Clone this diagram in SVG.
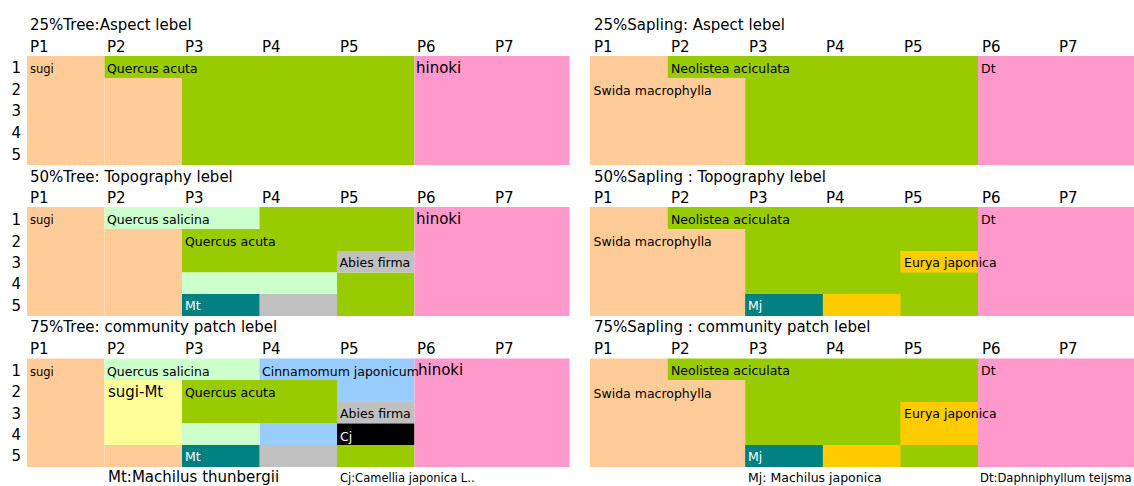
<svg xmlns="http://www.w3.org/2000/svg" width="1134" height="486" viewBox="0 0 1134 486">
<style>
text{font-family:"DejaVu Sans","Liberation Sans",sans-serif;fill:#000}
.t{font-size:15px}
.h{font-size:15px}
.r{font-size:15px;text-anchor:end}
.s{font-size:12.5px}
.sg{font-size:11.5px}
.w{fill:#fff}
.big{font-size:15px}
.pe{fill:#FFCC99}.gr{fill:#99CC00}.pk{fill:#FF99CC}.lg{fill:#CCFFCC}.gy{fill:#C0C0C0}.tl{fill:#008080}.lb{fill:#99CCFF}.ye{fill:#FFFF99}.bk{fill:#000}.go{fill:#FFCC00}
</style>
<rect width="1134" height="486" fill="#fff"/>

<g id="tree25">
<text class="t" x="30" y="30">25%Tree:Aspect lebel</text>
<g class="h"><text x="30" y="52">P1</text><text x="107" y="52">P2</text><text x="185" y="52">P3</text><text x="262" y="52">P4</text><text x="340" y="52">P5</text><text x="417" y="52">P6</text><text x="495" y="52">P7</text></g>
<rect class="pe" x="27" y="56" width="77.5" height="109"/>
<rect class="pe" x="104.5" y="78" width="77.5" height="87"/>
<rect class="gr" x="104.5" y="56" width="77.5" height="22"/>
<rect class="gr" x="182" y="56" width="232.5" height="109"/>
<rect class="pk" x="414.5" y="56" width="155" height="109"/>
<text class="r" x="21" y="73">1</text><text class="r" x="21" y="94.5">2</text><text class="r" x="21" y="116">3</text><text class="r" x="21" y="138">4</text><text class="r" x="21" y="159.5">5</text>
<text class="sg" x="30" y="73">sugi</text>
<text class="s" x="107" y="73">Quercus acuta</text>
<text class="big" x="416" y="73">hinoki</text>
</g>

<g id="tree50">
<text class="t" x="30" y="181.5">50%Tree: Topography lebel</text>
<g class="h"><text x="30" y="203">P1</text><text x="107" y="203">P2</text><text x="185" y="203">P3</text><text x="262" y="203">P4</text><text x="340" y="203">P5</text><text x="417" y="203">P6</text><text x="495" y="203">P7</text></g>
<rect class="pe" x="27" y="207" width="77.5" height="109"/>
<rect class="pe" x="104.5" y="229" width="77.5" height="87"/>
<rect class="lg" x="104.5" y="207" width="155" height="22"/>
<rect class="gr" x="259.5" y="207" width="155" height="22"/>
<rect class="gr" x="182" y="229" width="232.5" height="22"/>
<rect class="gr" x="182" y="251" width="155" height="21.5"/>
<rect class="gr" x="337" y="272.5" width="77.5" height="43.5"/>
<rect class="gy" x="337" y="251" width="77.5" height="21.5"/>
<rect class="gy" x="259.5" y="294" width="77.5" height="22"/>
<rect class="lg" x="182" y="272.5" width="155" height="21.5"/>
<rect class="tl" x="182" y="294" width="77.5" height="22"/>
<rect class="pk" x="414.5" y="207" width="155" height="109"/>
<text class="r" x="21" y="225">1</text><text class="r" x="21" y="246.5">2</text><text class="r" x="21" y="267.5">3</text><text class="r" x="21" y="289">4</text><text class="r" x="21" y="310.5">5</text>
<text class="sg" x="30" y="224">sugi</text>
<text class="s" x="107" y="224">Quercus salicina</text>
<text class="big" x="416" y="224">hinoki</text>
<text class="s" x="185" y="246">Quercus acuta</text>
<text class="s" x="339.5" y="267">Abies firma</text>
<text class="s w" x="185" y="310">Mt</text>
</g>

<g id="tree75">
<text class="t" x="30" y="332">75%Tree: community patch lebel</text>
<g class="h"><text x="30" y="354">P1</text><text x="107" y="354">P2</text><text x="185" y="354">P3</text><text x="262" y="354">P4</text><text x="340" y="354">P5</text><text x="417" y="354">P6</text><text x="495" y="354">P7</text></g>
<rect class="pe" x="27" y="358.5" width="77.5" height="108.5"/>
<rect class="pe" x="104.5" y="445" width="77.5" height="22"/>
<rect class="lg" x="104.5" y="358.5" width="155" height="21.5"/>
<rect class="lb" x="259.5" y="358.5" width="155" height="21.5"/>
<rect class="lb" x="337" y="380" width="77.5" height="22"/>
<rect class="lb" x="259.5" y="423.5" width="77.5" height="21.5"/>
<rect class="ye" x="104.5" y="380" width="77.5" height="65"/>
<rect class="gr" x="182" y="380" width="155" height="43.5"/>
<rect class="gr" x="337" y="445" width="77.5" height="22"/>
<rect class="gy" x="337" y="402" width="77.5" height="21.5"/>
<rect class="gy" x="259.5" y="445" width="77.5" height="22"/>
<rect class="lg" x="182" y="423.5" width="77.5" height="21.5"/>
<rect class="bk" x="337" y="423.5" width="77.5" height="21.5"/>
<rect class="tl" x="182" y="445" width="77.5" height="22"/>
<rect class="pk" x="414.5" y="358.5" width="155" height="108.5"/>
<text class="r" x="21" y="376">1</text><text class="r" x="21" y="397">2</text><text class="r" x="21" y="418.5">3</text><text class="r" x="21" y="440">4</text><text class="r" x="21" y="461">5</text>
<text class="sg" x="30" y="376">sugi</text>
<text class="s" x="107" y="376">Quercus salicina</text>
<text class="s" x="262" y="376">Cinnamomum japonicum</text>
<text class="big" x="418" y="375">hinoki</text>
<text class="big" x="108" y="397">sugi-Mt</text>
<text class="s" x="185" y="397">Quercus acuta</text>
<text class="s" x="340" y="417.5">Abies firma</text>
<text class="s w" x="340" y="441">Cj</text>
<text class="s w" x="185" y="461">Mt</text>
<text class="big" x="108" y="482">Mt:Machilus thunbergii</text>
<text class="sg" x="340" y="482">Cj:Camellia japonica L..</text>
</g>

<g id="sapling25">
<text class="t" x="594" y="30">25%Sapling: Aspect lebel</text>
<g class="h"><text x="594" y="52">P1</text><text x="671" y="52">P2</text><text x="749" y="52">P3</text><text x="826" y="52">P4</text><text x="904" y="52">P5</text><text x="982" y="52">P6</text><text x="1059" y="52">P7</text></g>
<rect class="pe" x="590" y="56" width="77.6" height="22"/>
<rect class="pe" x="590" y="78" width="155.2" height="87"/>
<rect class="gr" x="667.6" y="56" width="310.4" height="22"/>
<rect class="gr" x="745.2" y="78" width="232.8" height="87"/>
<rect class="pk" x="978" y="56" width="156" height="109"/>
<text class="s" x="671" y="73">Neolistea aciculata</text>
<text class="s" x="981" y="73">Dt</text>
<text class="s" x="593.5" y="94.5">Swida macrophylla</text>
</g>

<g id="sapling50">
<text class="t" x="594" y="181.5">50%Sapling : Topography lebel</text>
<g class="h"><text x="594" y="203">P1</text><text x="671" y="203">P2</text><text x="749" y="203">P3</text><text x="826" y="203">P4</text><text x="904" y="203">P5</text><text x="982" y="203">P6</text><text x="1059" y="203">P7</text></g>
<rect class="pe" x="590" y="207" width="77.6" height="22"/>
<rect class="pe" x="590" y="229" width="155.2" height="87"/>
<rect class="gr" x="667.6" y="207" width="310.4" height="22"/>
<rect class="gr" x="745.2" y="229" width="232.8" height="87"/>
<rect class="go" x="900.4" y="251" width="77.6" height="21.5"/>
<rect class="go" x="822.8" y="294" width="77.6" height="22"/>
<rect class="tl" x="745.2" y="294" width="77.6" height="22"/>
<rect class="pk" x="978" y="207" width="156" height="109"/>
<text class="s" x="671" y="224">Neolistea aciculata</text>
<text class="s" x="981" y="224">Dt</text>
<text class="s" x="593.5" y="246">Swida macrophylla</text>
<text class="s" x="904" y="267">Eurya japonica</text>
<text class="s w" x="748" y="310">Mj</text>
</g>

<g id="sapling75">
<text class="t" x="594" y="332">75%Sapling : community patch lebel</text>
<g class="h"><text x="594" y="354">P1</text><text x="671" y="354">P2</text><text x="749" y="354">P3</text><text x="826" y="354">P4</text><text x="904" y="354">P5</text><text x="982" y="354">P6</text><text x="1059" y="354">P7</text></g>
<rect class="pe" x="590" y="358.5" width="77.6" height="21.5"/>
<rect class="pe" x="590" y="380" width="155.2" height="87"/>
<rect class="gr" x="667.6" y="358.5" width="310.4" height="21.5"/>
<rect class="gr" x="745.2" y="380" width="232.8" height="87"/>
<rect class="go" x="900.4" y="402" width="77.6" height="43"/>
<rect class="go" x="822.8" y="445" width="77.6" height="22"/>
<rect class="tl" x="745.2" y="445" width="77.6" height="22"/>
<rect class="pk" x="978" y="358.5" width="156" height="108.5"/>
<text class="s" x="671" y="375">Neolistea aciculata</text>
<text class="s" x="981" y="375">Dt</text>
<text class="s" x="593.5" y="397.5">Swida macrophylla</text>
<text class="s" x="904" y="418">Eurya japonica</text>
<text class="s w" x="748" y="461">Mj</text>
<text class="s" x="748" y="482">Mj: Machilus japonica</text>
<text x="980" y="482" font-size="11.6">Dt:Daphniphyllum teijsma</text>
</g>
</svg>
